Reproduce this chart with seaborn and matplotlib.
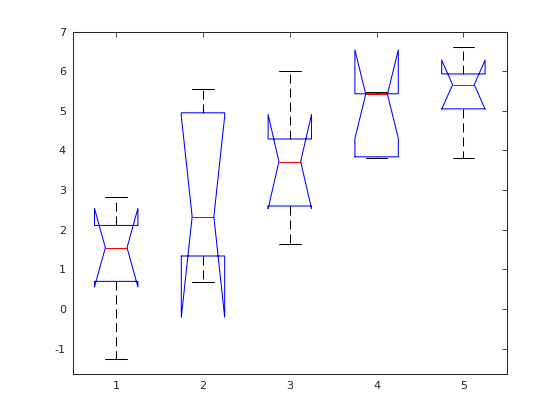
import numpy as np
import pandas as pd
import matplotlib
matplotlib.use("Agg")
import matplotlib.pyplot as plt
import seaborn as sns

group_labels = ["1", "2", "3", "4", "5"]
g1 = [-1.25, 0.70, 1.55, 2.11, 2.84]
g2 = [0.69, 1.34, 2.33, 4.95, 5.55]
g3 = [1.65, 2.60, 3.72, 4.29, 6.01]
g4 = [3.80, 3.84, 5.42, 5.43, 5.47]
g5 = [3.80, 5.05, 5.66, 5.93, 6.62]
y_ticks = [-1, 0, 1, 2, 3, 4, 5, 6, 7]

groups = [g1, g2, g3, g4, g5]
df = pd.DataFrame({
    "group": np.repeat(group_labels, [len(g) for g in groups]),
    "value": np.concatenate(groups),
})

sns.set_style("white")
fig = plt.figure(figsize=(5.6, 4.2), dpi=100)
ax = fig.add_axes([0.13, 0.11, 0.775, 0.815])

lw = 0.75
sns.boxplot(
    data=df, x="group", y="value", order=group_labels, ax=ax,
    fill=False, width=0.5, notch=True, showfliers=False,
    boxprops=dict(color="#0000ff", linewidth=lw),
    medianprops=dict(color="#ff0000", linewidth=lw),
    whiskerprops=dict(color="black", linewidth=lw, linestyle=(0, (8.6, 4.8))),
    capprops=dict(color="black", linewidth=lw),
)

ax.set_xlim(-0.5, 4.5)
ax.set_ylim(-1.63, 7.0)
ax.set_yticks(y_ticks)
ax.set_yticklabels([str(t) for t in y_ticks])
ax.set_xticks(range(len(group_labels)))
ax.set_xticklabels(group_labels)
ax.set_xlabel("")
ax.set_ylabel("")

for s in ax.spines.values():
    s.set_visible(True)
    s.set_color("#262626")
    s.set_linewidth(0.75)
ax.tick_params(direction="in", length=3.5, width=0.6, colors="#262626",
               labelsize=8, top=True, right=True, labelcolor="#262626", pad=5)

fig.savefig("out.png", dpi=100)
